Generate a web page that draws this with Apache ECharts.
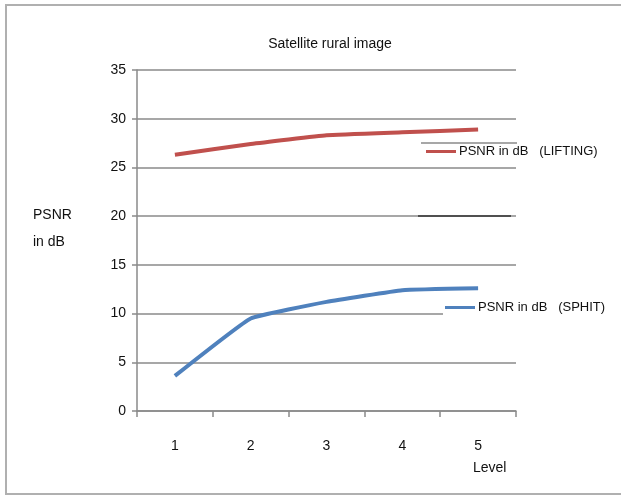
<!DOCTYPE html>
<html>
<head>
<meta charset="utf-8">
<script src="https://cdn.jsdelivr.net/npm/echarts@6/dist/echarts.min.js"></script>
<style>
html, body { margin: 0; padding: 0; background: #fff; }
#chart { width: 621px; height: 495px; }
</style>
</head>
<body>
<div id="chart"></div>
<script>
// Decomposition level on the x axis, PSNR (dB) on the y axis
const levels = ['1', '2', '3', '4', '5'];
const liftingPsnr = [26.3, 27.4, 28.3, 28.6, 28.9];
const sphitPsnr = [3.6, 9.5, 11.2, 12.4, 12.6];
const liftingName = 'PSNR in dB   (LIFTING)';
const sphitName = 'PSNR in dB   (SPHIT)';

const FONT = '"Liberation Sans", Arial, sans-serif';
const chart = echarts.init(document.getElementById('chart'), null, { renderer: 'canvas' });

chart.setOption({
  animation: false,
  backgroundColor: '#fff',
  title: {
    text: 'Satellite rural image',
    left: 325, top: 32, textAlign: 'center',
    textStyle: { fontFamily: FONT, fontSize: 14, fontWeight: 'normal', color: '#111' }
  },
  grid: { left: 137, right: 105, top: 70, bottom: 84 },
  legend: [
    {
      data: [liftingName], left: 426, top: 145, orient: 'vertical',
      icon: 'rect', itemWidth: 30, itemHeight: 3, itemGap: 4, padding: 0,
      textStyle: { fontFamily: FONT, fontSize: 13, color: '#111', padding: [0, 0, 0, -2] }
    },
    {
      data: [sphitName], left: 443, top: 301, orient: 'vertical',
      icon: 'rect', itemWidth: 30, itemHeight: 3, itemGap: 4, padding: [0, 4, 8, 2],
      backgroundColor: '#fff',
      textStyle: { fontFamily: FONT, fontSize: 13, color: '#111', padding: [0, 0, 0, -2] }
    }
  ],
  xAxis: {
    type: 'category', data: levels, boundaryGap: true,
    axisLine: { lineStyle: { color: '#8a8a8a', width: 1.5 } },
    axisTick: { show: true, length: 6, lineStyle: { color: '#8a8a8a', width: 1.5 } },
    axisLabel: { margin: 28, fontFamily: FONT, fontSize: 14, color: '#111' },
    splitLine: { show: false }
  },
  yAxis: {
    type: 'value', min: 0, max: 35, interval: 5,
    axisLine: { show: true, lineStyle: { color: '#8a8a8a', width: 1.5 } },
    axisTick: { show: true, length: 5, lineStyle: { color: '#8a8a8a', width: 1.5 } },
    axisLabel: { margin: 11, fontFamily: FONT, fontSize: 14, color: '#111' },
    splitLine: { show: true, lineStyle: { color: '#8a8a8a', width: 1.5 } }
  },
  series: [
    {
      name: liftingName, type: 'line', data: liftingPsnr,
      showSymbol: false, symbol: 'none', smooth: 0.1,
      lineStyle: { color: '#C0504D', width: 4 }, itemStyle: { color: '#C0504D' }
    },
    {
      name: sphitName, type: 'line', data: sphitPsnr,
      showSymbol: false, symbol: 'none', smooth: 0.1,
      lineStyle: { color: '#4F81BD', width: 4 }, itemStyle: { color: '#4F81BD' }
    }
  ],
  graphic: [
    // outer frame of the chart area
    { type: 'rect', shape: { x: 6, y: 5, width: 640, height: 489 }, silent: true,
      style: { fill: 'none', stroke: '#b0b0b0', lineWidth: 2 }, z: -1 },
    // y axis title
    { type: 'text', left: 33, top: 202, silent: true,
      style: { text: 'PSNR\nin dB', fontFamily: FONT, fontSize: 14, lineHeight: 27, fill: '#111' } },
    // x axis title
    { type: 'text', left: 473, top: 461, silent: true,
      style: { text: 'Level', fontFamily: FONT, fontSize: 14, fill: '#111' } },
    // stray strokes beside the legends
    { type: 'line', shape: { x1: 421, y1: 143, x2: 517, y2: 143 }, silent: true,
      style: { stroke: '#8a8a8a', lineWidth: 1.5 }, z: 10 },
    { type: 'line', shape: { x1: 418, y1: 216, x2: 511, y2: 216 }, silent: true,
      style: { stroke: '#333', lineWidth: 1.5 }, z: 10 }
  ]
});
</script>
</body>
</html>
